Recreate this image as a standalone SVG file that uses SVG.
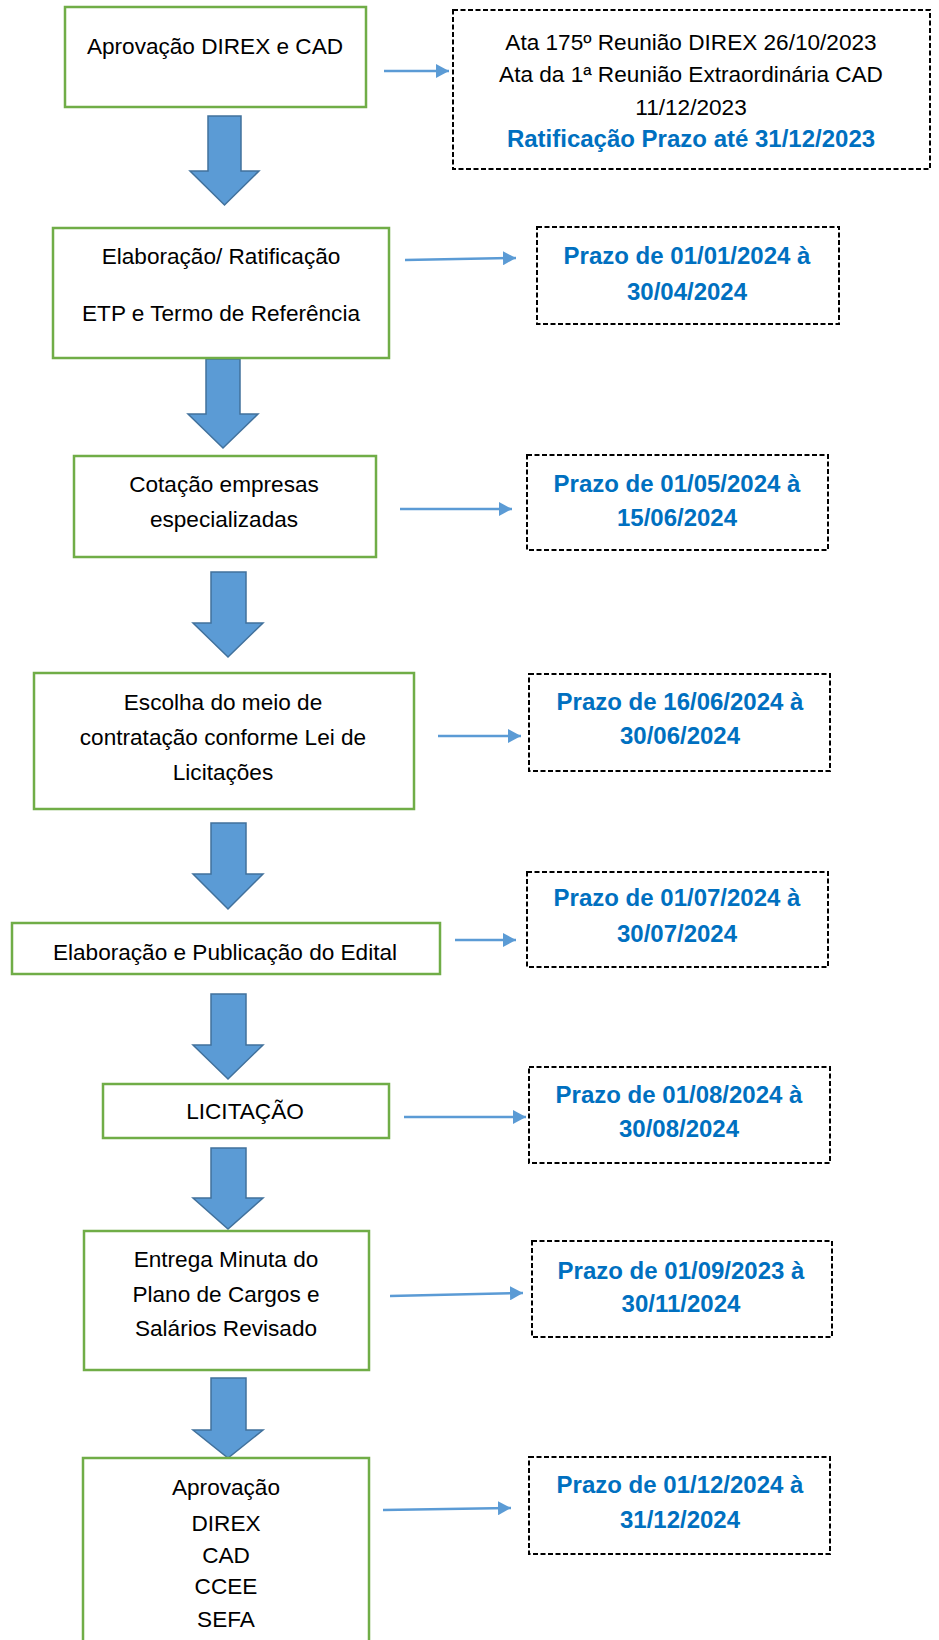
<svg xmlns="http://www.w3.org/2000/svg" width="939" height="1640" viewBox="0 0 939 1640">
<style>
.box{fill:#fff;stroke:#70AD47;stroke-width:2.5}
.dash{fill:#fff;stroke:#000;stroke-width:2;stroke-dasharray:5 2.5}
.big{fill:#5B9BD5;stroke:#41719C;stroke-width:1.5}
.lnk{fill:none;stroke:#5B9BD5;stroke-width:2.5}
text{font-family:"Liberation Sans",Arial,sans-serif;font-size:22.6px;text-anchor:middle;fill:#000}
.b{font-weight:bold;fill:#0070C0;font-size:24px}
</style>
<defs>
<marker id="ah" markerUnits="userSpaceOnUse" markerWidth="14" markerHeight="14" refX="13" refY="7" orient="auto">
<path d="M0,0 L13,7 L0,14 Z" fill="#5B9BD5"/>
</marker>
</defs>
<rect width="939" height="1640" fill="#fff"/>
<g id="connectors">
<polygon class="big" points="208,116 241,116 241,171 259,171 224.5,205 190,171 208,171"/>
<polygon class="big" points="206,359 240,359 240,414 258,414 223,448 188,414 206,414"/>
<polygon class="big" points="211,572 246,572 246,623 263,623 228,657 193,623 211,623"/>
<polygon class="big" points="211,823 246,823 246,874 263,874 228,909 193,874 211,874"/>
<polygon class="big" points="211,994 246,994 246,1045 263,1045 228,1079 193,1045 211,1045"/>
<polygon class="big" points="211,1148 246,1148 246,1198 263,1198 228,1229 193,1198 211,1198"/>
<polygon class="big" points="211,1378 246,1378 246,1430 263,1430 228,1458 193,1430 211,1430"/>
<line class="lnk" x1="384" y1="71" x2="449" y2="71" marker-end="url(#ah)"/>
<line class="lnk" x1="405" y1="260" x2="516" y2="258" marker-end="url(#ah)"/>
<line class="lnk" x1="400" y1="509" x2="512" y2="509" marker-end="url(#ah)"/>
<line class="lnk" x1="438" y1="736" x2="521" y2="736" marker-end="url(#ah)"/>
<line class="lnk" x1="455" y1="940" x2="516" y2="940" marker-end="url(#ah)"/>
<line class="lnk" x1="404" y1="1117" x2="526" y2="1117" marker-end="url(#ah)"/>
<line class="lnk" x1="390" y1="1296" x2="523" y2="1293" marker-end="url(#ah)"/>
<line class="lnk" x1="383" y1="1510" x2="511" y2="1508" marker-end="url(#ah)"/>
</g>
<g id="n1"><rect class="box" x="65" y="7" width="301" height="100"/><text x="215" y="54">Aprovação DIREX e CAD</text></g>
<g id="d1"><rect class="dash" x="453" y="10" width="477" height="159"/>
<text x="691" y="50">Ata 175º Reunião DIREX 26/10/2023</text>
<text x="691" y="82">Ata da 1ª Reunião Extraordinária CAD</text>
<text x="691" y="115">11/12/2023</text>
<text class="b" x="691" y="147">Ratificação Prazo até 31/12/2023</text></g>
<g id="n2"><rect class="box" x="53" y="228" width="336" height="130"/><text x="221" y="264">Elaboração/ Ratificação</text><text x="221" y="321">ETP e Termo de Referência</text></g>
<g id="d2"><rect class="dash" x="537" y="227" width="302" height="97"/><text class="b" x="687" y="264">Prazo de 01/01/2024 à</text><text class="b" x="687" y="300">30/04/2024</text></g>
<g id="n3"><rect class="box" x="74" y="456" width="302" height="101"/><text x="224" y="492">Cotação empresas</text><text x="224" y="527">especializadas</text></g>
<g id="d3"><rect class="dash" x="527" y="455" width="301" height="95"/><text class="b" x="677" y="492">Prazo de 01/05/2024 à</text><text class="b" x="677" y="526">15/06/2024</text></g>
<g id="n4"><rect class="box" x="34" y="673" width="380" height="136"/><text x="223" y="710">Escolha do meio de</text><text x="223" y="745">contratação conforme Lei de</text><text x="223" y="780">Licitações</text></g>
<g id="d4"><rect class="dash" x="529" y="674" width="301" height="97"/><text class="b" x="680" y="710">Prazo de 16/06/2024 à</text><text class="b" x="680" y="744">30/06/2024</text></g>
<g id="n5"><rect class="box" x="12" y="923" width="428" height="51"/><text x="225" y="960">Elaboração e Publicação do Edital</text></g>
<g id="d5"><rect class="dash" x="527" y="872" width="301" height="95"/><text class="b" x="677" y="906">Prazo de 01/07/2024 à</text><text class="b" x="677" y="942">30/07/2024</text></g>
<g id="n6"><rect class="box" x="103" y="1084" width="286" height="54"/><text x="245" y="1119">LICITAÇÃO</text></g>
<g id="d6"><rect class="dash" x="529" y="1067" width="301" height="96"/><text class="b" x="679" y="1103">Prazo de 01/08/2024 à</text><text class="b" x="679" y="1137">30/08/2024</text></g>
<g id="n7"><rect class="box" x="84" y="1231" width="285" height="139"/><text x="226" y="1267">Entrega Minuta do</text><text x="226" y="1302">Plano de Cargos e</text><text x="226" y="1336">Salários Revisado</text></g>
<g id="d7"><rect class="dash" x="532" y="1241" width="300" height="96"/><text class="b" x="681" y="1279">Prazo de 01/09/2023 à</text><text class="b" x="681" y="1312">30/11/2024</text></g>
<g id="n8"><rect class="box" x="83" y="1458" width="286" height="200"/><text x="226" y="1495">Aprovação</text><text x="226" y="1531">DIREX</text><text x="226" y="1563">CAD</text><text x="226" y="1594">CCEE</text><text x="226" y="1627">SEFA</text></g>
<g id="d8"><rect class="dash" x="529" y="1457" width="301" height="97"/><text class="b" x="680" y="1493">Prazo de 01/12/2024 à</text><text class="b" x="680" y="1528">31/12/2024</text></g>
</svg>
